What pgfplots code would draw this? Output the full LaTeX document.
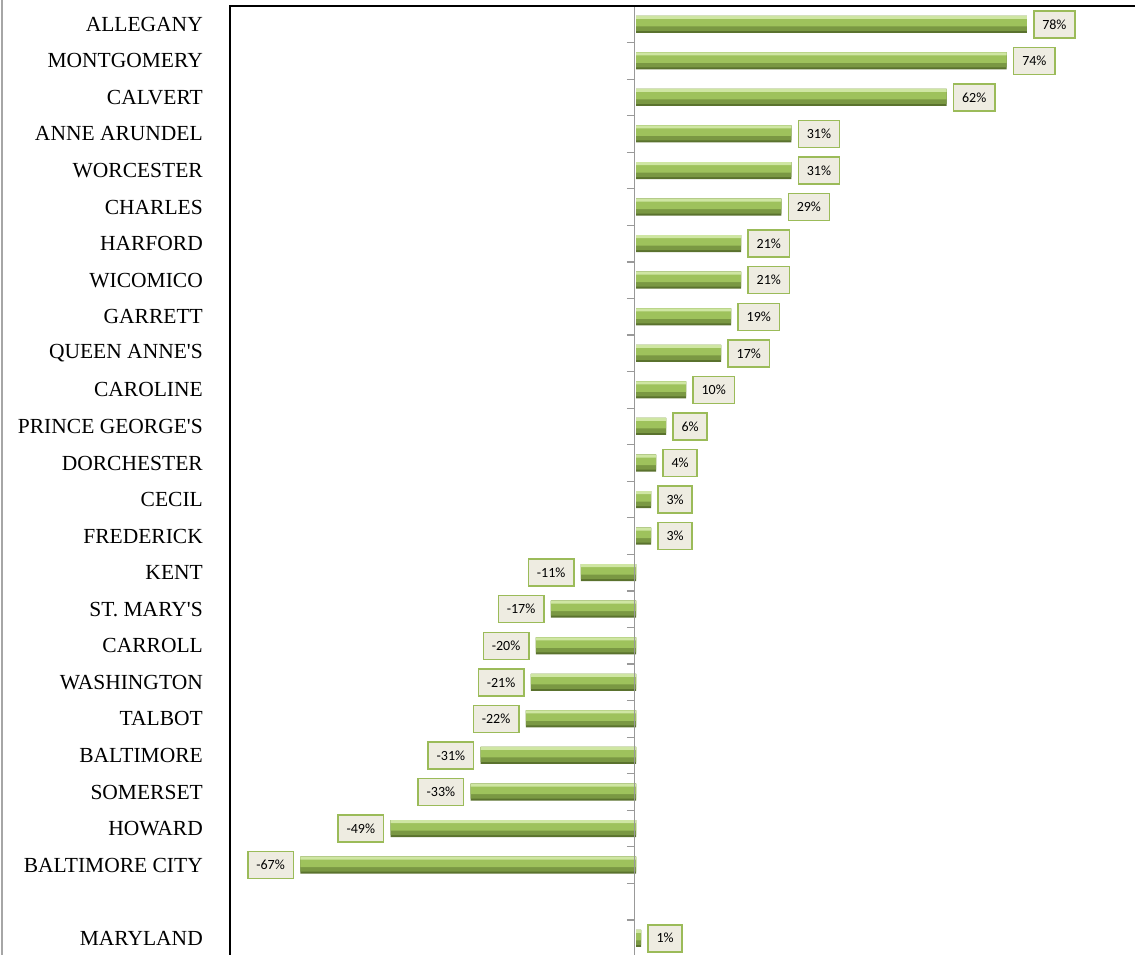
\documentclass[border=0pt]{standalone}
\usepackage{pgfplots}
\usepackage{pgfplotstable}
\pgfplotsset{compat=1.18}
\usepackage{fontspec}
\setmainfont{Liberation Serif}
\newfontfamily\calibri{Carlito}
\definecolor{lblfill}{HTML}{EEECE1}
\definecolor{lbldraw}{HTML}{9BBB59}
\definecolor{bandA}{HTML}{5A722E}
\definecolor{bandB}{HTML}{7A9843}
\definecolor{bandC}{HTML}{9EC25C}
\definecolor{bandD}{HTML}{CFE6A3}
\pgfplotstableread{
x y
78 0
74 1
62 2
31 3
31 4
29 5
21 6
21 7
19 8
17 9
10 10
6 11
4 12
3 13
3 14
-11 15
-17 16
-20 17
-21 18
-22 19
-31 20
-33 21
-49 22
-67 23
1 25
}\datatable
\begin{document}
\begin{tikzpicture}
\begin{axis}[
  at={(230bp,-6bp)}, anchor=north west,
  scale only axis, width=907bp, height=948.7bp,
  xmin=-81.04, xmax=100, ymin=-0.5, ymax=25.45, y dir=reverse,
  axis line style={draw=none},
  xtick=\empty,
  ytick={0,...,23,25},
  yticklabels={ALLEGANY,MONTGOMERY,CALVERT,ANNE ARUNDEL,WORCESTER,CHARLES,HARFORD,WICOMICO,GARRETT,QUEEN ANNE\textquotesingle S,CAROLINE,PRINCE GEORGE\textquotesingle S,DORCHESTER,CECIL,FREDERICK,KENT,ST. MARY\textquotesingle S,CARROLL,WASHINGTON,TALBOT,{BALTIMORE\hspace{0.3em}},SOMERSET,HOWARD,BALTIMORE CITY,MARYLAND},
  y tick label style={font=\fontsize{21.5bp}{23bp}\selectfont, anchor=east, inner sep=0pt, xshift=-27bp},
  major tick length=0pt,
  /pgf/number format/assume math mode=true,
  clip=false,
]
\addplot[xbar, bar width=17bp, bar shift=0pt, draw=none, fill=bandA] table {\datatable};
\addplot[xbar, bar width=15bp, bar shift=1bp, draw=none, fill=bandB] table {\datatable};
\addplot[xbar, bar width=10.5bp, bar shift=3.25bp, draw=none, fill=bandC] table {\datatable};
\addplot[xbar, bar width=3bp, bar shift=7bp, draw=none, fill=bandD] table {\datatable};
\addplot[xbar, bar width=17bp, bar shift=0pt, draw=none, fill=none,
  nodes near coords={\pgfmathprintnumber{\pgfplotspointmeta}\%},
  every node near coord/.append style={font=\calibri\fontsize{14bp}{16bp}\selectfont, text=black, draw=lbldraw, fill=lblfill, line width=1.5bp, inner xsep=8.5bp, inner ysep=0pt, minimum height=27bp, outer xsep=7bp}] table {\datatable};
\draw[gray!80, line width=1.5bp] (axis cs:-0.3,-0.5) -- (axis cs:-0.3,25.45);
\pgfplotsinvokeforeach{-0.5,0.5,...,25.5}{\draw[gray!80, line width=1.2bp] (axis cs:-1.8,#1) -- (axis cs:-0.3,#1);}
\end{axis}
\draw[black, line width=1.3bp] (230bp,-956bp) -- (230bp,-6bp) -- (1136bp,-6bp);
\draw[gray!70, line width=1.5bp] (2bp,0bp) -- (2bp,-956bp);
\pgfresetboundingbox
\path[use as bounding box] (0,0) rectangle (1135bp,-955bp);
\end{tikzpicture}
\end{document}
